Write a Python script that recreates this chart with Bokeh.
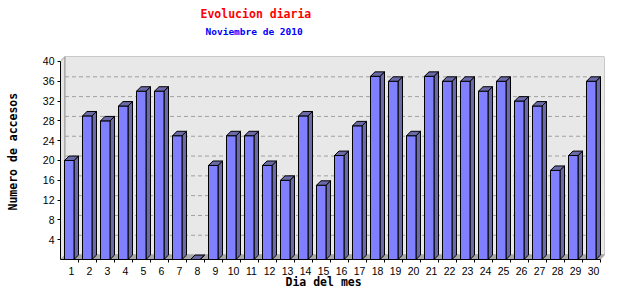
from bokeh.plotting import figure
from bokeh.models import Range1d, FixedTicker, Title
from bokeh.embed import file_html
from bokeh.resources import INLINE

# ---- data ----
days = list(range(1, 31))
visits = [20, 29, 28, 31, 34, 34, 25, 0, 19, 25,
          25, 19, 16, 29, 15, 21, 27, 37, 36, 25,
          37, 36, 36, 34, 36, 32, 31, 18, 21, 36]
y_ticks = [4, 8, 12, 16, 20, 24, 28, 32, 36, 40]
title_text = "Evolucion diaria"
subtitle_text = "Noviembre de 2010"
y_label = "Numero de accesos"
x_label = "Dia del mes"

# ---- geometry (data units) ----
X0, X1 = 1 - 11 / 18, 1 + 533 / 18
Y0, Y1 = 0, 41
DX = 4.5 / 18          # 3D depth in category units
DY = 4.5 / (206 / 41)  # 3D depth in value units
L_OFF, R_OFF = 7 / 18, 2.5 / 18

p = figure(width=640, height=300, output_backend="svg", toolbar_location=None,
           x_range=Range1d(X0, X1), y_range=Range1d(Y0, Y1),
           min_border_left=60, min_border_right=36, min_border_top=55, min_border_bottom=39)
p.outline_line_color = None
p.background_fill_color = "white"
p.border_fill_color = "white"
p.grid.visible = False

# walls and floor
xb0 = X0 + DX
p.patch([X0, xb0, xb0, X0], [0, DY, Y1, Y1 - DY], fill_color="#e4e4e4",
        line_color="#999999", line_width=1)
p.patch([xb0, X1, X1, xb0], [DY, DY, Y1, Y1], fill_color="#e8e8e8",
        line_color="#999999", line_width=1)
p.patch([X0, xb0, X1, X1 - DX], [0, DY, DY, 0], fill_color="#a8a8a8",
        line_color="#a8a8a8", line_width=1)

# dashed gridlines on back wall
gl = [t for t in y_ticks if t < 40]
p.multi_line([[xb0, X1] for _ in gl], [[t + DY, t + DY] for t in gl],
             line_color="#a0a0a0", line_width=1, line_dash="4 3")

# bars
lefts = [d - L_OFF for d in days]
rights = [d + R_OFF for d in days]
side_xs, side_ys, top_xs, top_ys = [], [], [], []
for l, r, v in zip(lefts, rights, visits):
    side_xs.append([r, r + DX, r + DX, r])
    side_ys.append([0, DY, v + DY, v])
    top_xs.append([l, l + DX, r + DX, r])
    top_ys.append([v, v + DY, v + DY, v])
p.patches(side_xs, side_ys, fill_color="#6a6aa8", line_color="black", line_width=1)
p.quad(left=lefts, right=rights, bottom=0, top=visits,
       fill_color="#8080ff", line_color="black", line_width=1)
p.patches(top_xs, top_ys, fill_color="#6a6aa8", line_color="black", line_width=1)

# axes
xa = p.xaxis[0]
xa.ticker = FixedTicker(ticks=days, minor_ticks=[d + L_OFF for d in days])
xa.bounds = (X0, 30 + L_OFF)
xa.axis_line_color = "black"
xa.major_tick_out = 0
xa.major_tick_in = 0
xa.minor_tick_out = 3
xa.minor_tick_in = 0
xa.minor_tick_line_color = "black"
xa.major_label_standoff = 4
xa.major_label_text_font = "Liberation Sans"
xa.major_label_text_font_size = "10.5px"
xa.major_label_text_color = "black"

ya = p.yaxis[0]
ya.ticker = FixedTicker(ticks=y_ticks)
ya.bounds = (0, 40)
ya.axis_line_color = "black"
ya.major_tick_out = 3
ya.major_tick_in = 0
ya.minor_tick_out = 0
ya.minor_tick_in = 0
ya.minor_tick_line_color = None
ya.major_label_standoff = 3
ya.major_label_text_font = "Liberation Sans"
ya.major_label_text_font_size = "10.5px"
ya.major_label_text_color = "black"

mono = "DejaVu Sans Mono"

def spacer(st):
    return Title(text=" ", text_font_size="1px", standoff=st, text_color="white")

# above: nearest to plot first
p.add_layout(spacer(18), "above")
p.add_layout(Title(text=subtitle_text, align="left", offset=145, text_font=mono,
                   text_font_style="bold", text_font_size="9.5px", text_color="#0000ff",
                   vertical_align="middle", standoff=-5), "above")
p.add_layout(Title(text=title_text, align="left", offset=140, text_font=mono,
                   text_font_style="bold", text_font_size="11.5px", text_color="#ff0000",
                   vertical_align="middle", standoff=10.5), "above")
# left
p.add_layout(spacer(11.5), "left")
p.add_layout(Title(text=y_label, align="left", offset=49, text_font=mono,
                   text_font_style="bold", text_font_size="11.5px", text_color="black",
                   vertical_align="middle", standoff=6.5), "left")
# below
p.add_layout(Title(text=x_label, align="left", offset=225, text_font=mono,
                   text_font_style="bold", text_font_size="11.5px", text_color="black",
                   vertical_align="middle", standoff=-7.8), "below")
p.add_layout(spacer(12), "below")

open("out.html", "w").write(file_html(p, INLINE))
